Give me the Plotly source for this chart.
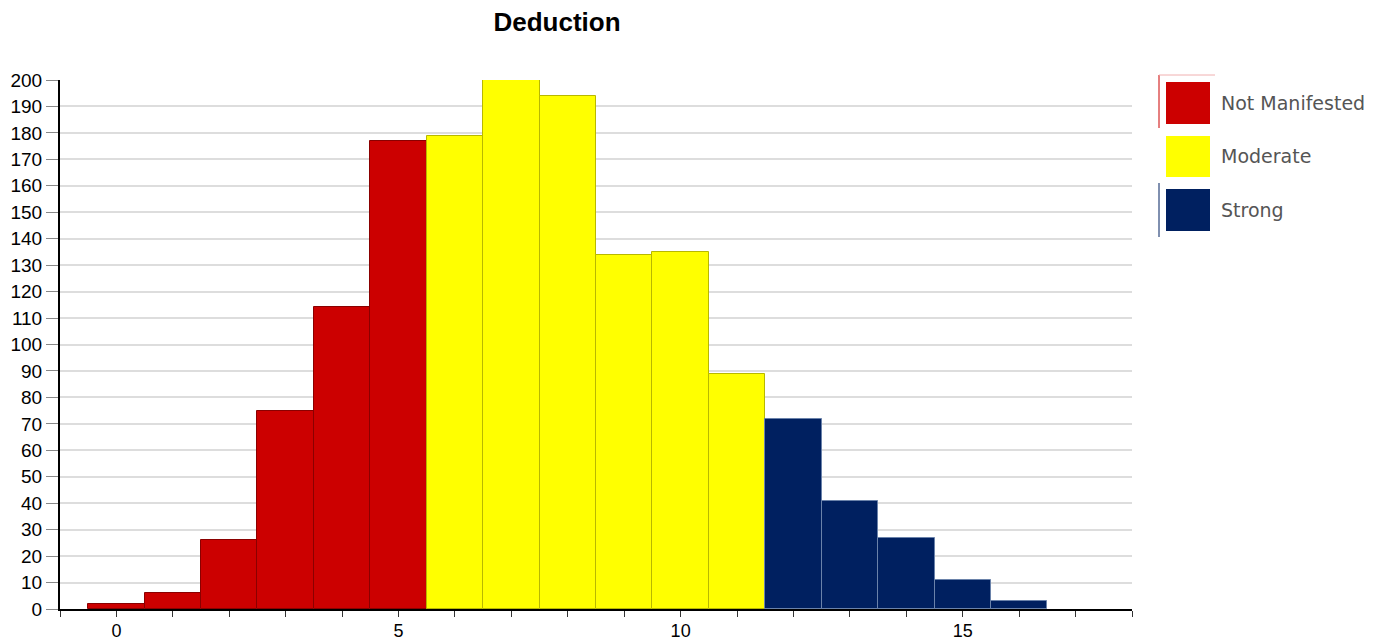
import plotly.graph_objects as go

title = "Deduction"
scores = list(range(17))
counts = [2, 6, 26, 75, 114, 177, 179, 200, 194, 134, 135, 89, 72, 41, 27, 11, 3]
category_names = ["Not Manifested", "Moderate", "Strong"]
category_ranges = [(0, 5), (6, 11), (12, 16)]
category_colors = ["#CC0000", "#FFFF00", "#002060"]
category_edges = ["#8a0000", "#b8b800", "#6a82aa"]
x_ticks = [0, 5, 10, 15]
y_ticks = list(range(0, 201, 10))

fig = go.Figure()
for name, (lo, hi), col, edge in zip(category_names, category_ranges, category_colors, category_edges):
    xs = [s for s in scores if lo <= s <= hi]
    ys = [counts[s] for s in xs]
    fig.add_trace(go.Bar(x=xs, y=ys, width=1, name=name,
                         marker=dict(color=col, line=dict(color=edge, width=1)),
                         showlegend=False))

L, R, T, B = 60, 1132, 80, 609
W, H = 1380, 641
def px(x): return (x - L) / (R - L)
def py(y): return 1 - (y - T) / (B - T)

legend_rows = [(82, 124), (136, 177), (189, 231)]
for (y0, y1), name, col in zip(legend_rows, category_names, category_colors):
    fig.add_shape(type="rect", xref="paper", yref="paper",
                  x0=px(1166), x1=px(1210), y0=py(y1), y1=py(y0),
                  fillcolor=col, line=dict(width=0))
    fig.add_annotation(xref="paper", yref="paper", x=px(1219), y=py((y0 + y1) / 2),
                       text=name, showarrow=False, xanchor="left", yanchor="middle",
                       font=dict(family="DejaVu Sans", size=19, color="#555555"))
fig.add_shape(type="line", xref="paper", yref="paper", x0=px(1159), x1=px(1159),
              y0=py(128), y1=py(75), line=dict(color="#CC0000", width=1))
fig.add_shape(type="line", xref="paper", yref="paper", x0=px(1159), x1=px(1159),
              y0=py(237), y1=py(183), line=dict(color="#002060", width=1))
fig.add_shape(type="line", xref="paper", yref="paper", x0=px(1159), x1=px(1215),
              y0=py(75), y1=py(75), line=dict(color="#f0b0b0", width=1))

fig.update_layout(
    width=W, height=H,
    margin=dict(l=L, r=W - R, t=T, b=H - B, autoexpand=False),
    plot_bgcolor="white", paper_bgcolor="white",
    barmode="overlay", bargap=0,
    title=dict(text="<b>" + title + "</b>", x=557 / W, xref="container", xanchor="center",
               y=1 - 22 / H, yref="container", yanchor="middle",
               font=dict(family="Liberation Sans", size=26, color="black")),
    font=dict(family="Liberation Sans", size=19, color="black"),
)
fig.update_xaxes(range=[-1, 18], tickvals=x_ticks, ticks="outside", ticklen=4, tickwidth=1,
                 tickcolor="#333", showgrid=False, zeroline=False, automargin=False,
                 showline=True, linecolor="black", linewidth=2,
                 minor=dict(tick0=0, dtick=1, ticks="outside", ticklen=6, tickcolor="#333", showgrid=False),
                 tickfont=dict(size=18))
fig.update_yaxes(range=[0, 200], tickvals=y_ticks, ticks="outside", ticklen=12, tickwidth=1,
                 tickcolor="#888", showgrid=True, gridcolor="#dddddd", gridwidth=2,
                 zeroline=False, showline=True, linecolor="black", linewidth=2, automargin=False,
                 tickfont=dict(size=19))

fig.write_html("out.html", config={"displayModeBar": False},
               post_script="document.body.style.margin='0';document.body.style.overflow='hidden';")
